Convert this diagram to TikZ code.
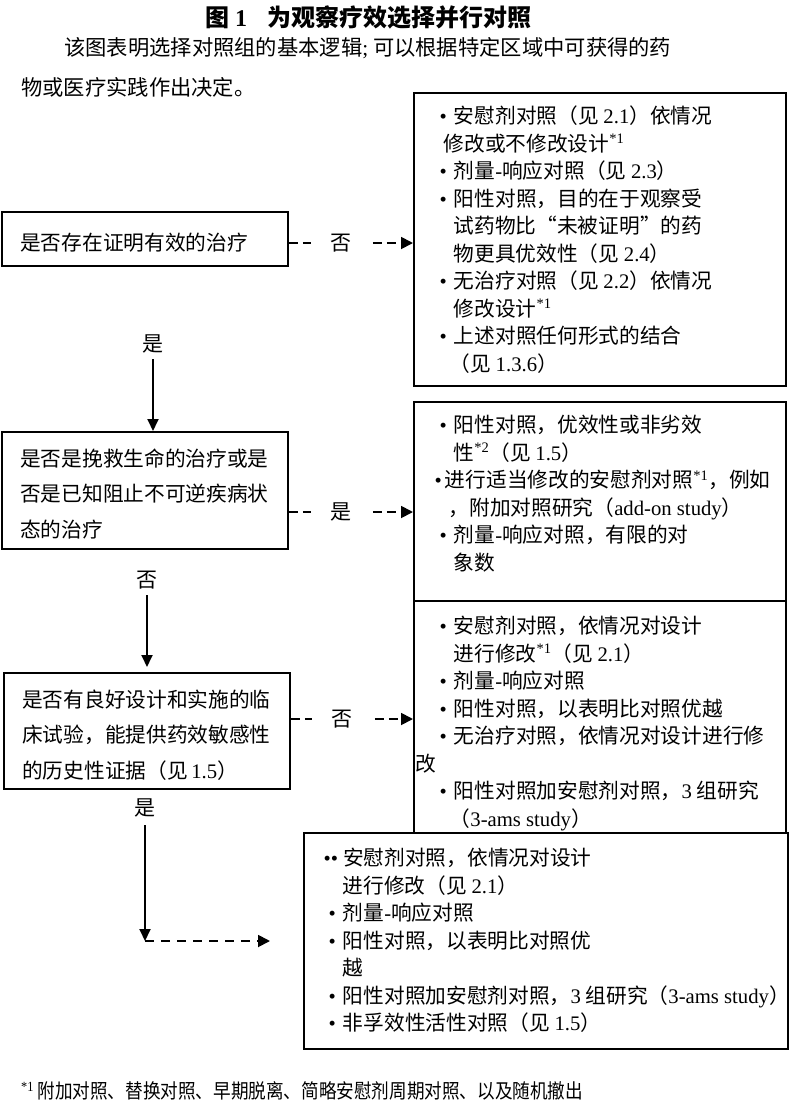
\documentclass[tikz,border=0pt]{standalone}
\usepackage{fontspec}
\setmainfont{Noto Sans CJK SC}
\newfontfamily\lat{Liberation Serif}
\usetikzlibrary{arrows.meta}
\newcommand{\tn}[1]{{\lat #1}}
\newcommand{\bul}{{\lat •}\hspace*{7pt}}
\newcommand{\sups}[1]{\textsuperscript{\lat #1}}
\newcommand{\ind}[1]{\hspace*{#1}}
\tikzset{
  box/.style={draw, line width=1.8pt, inner sep=0pt, anchor=north west},
  txtL/.style={anchor=north west, align=left, inner sep=0pt, font=\fontsize{20.7}{35.5}\selectfont},
  txtR/.style={anchor=north west, align=left, inner sep=0pt, font=\fontsize{20.7}{27.5}\selectfont},
  lbl/.style={inner sep=2pt, font=\fontsize{21}{21}\selectfont},
  dlbl/.style={fill=white, inner sep=0pt, minimum width=60pt, minimum height=20pt, font=\fontsize{21}{21}\selectfont},
  solidarrow/.style={line width=1.8pt, -{Triangle[length=12pt,width=11pt]}},
  dasharrow/.style={line width=1.8pt, dash pattern=on 9pt off 5pt, -{Triangle[length=12pt,width=12pt]}}
}
\begin{document}
\begin{tikzpicture}[x=1pt,y=-1pt]
\useasboundingbox (0,0) rectangle (800,1105);

% title and intro
\node[anchor=west, inner sep=0pt, font=\fontsize{24}{24}\selectfont\bfseries] (title) at (205,17)
  {图\hspace{6pt}{\lat\bfseries 1}\hspace{20pt}为观察疗效选择并行对照};
\node[anchor=west, inner sep=0pt, font=\fontsize{21.3}{21.3}\selectfont] (p1) at (64,48)
  {该图表明选择对照组的基本逻辑{\lat ;} 可以根据特定区域中可获得的药};
\node[anchor=west, inner sep=0pt, font=\fontsize{21.3}{21.3}\selectfont] (p2) at (21,87)
  {物或医疗实践作出决定。};

% left decision boxes
\node[box, minimum width=286pt, minimum height=54pt] (a) at (1,211) {};
\node[txtL] (ta) at (20,233) {是否存在证明有效的治疗};
\node[box, minimum width=286pt, minimum height=117pt] (b) at (1,431) {};
\node[txtL] (tb) at (20,448.5) {是否是挽救生命的治疗或是\\否是已知阻止不可逆疾病状\\态的治疗};
\node[box, minimum width=286pt, minimum height=116pt] (c) at (3,672) {};
\node[txtL] (tc) at (22,689.5) {是否有良好设计和实施的临\\床试验，能提供药效敏感性\\的历史性证据（见\,\tn{1.5}）};

% right option boxes
\node[box, minimum width=372pt, minimum height=293pt] (r1) at (413,92) {};
\node[txtR] (t1) at (439.5,106) {\bul 安慰剂对照（见 \tn{2.1}）依情况\\
\ind{4pt}修改或不修改设计\sups{*1}\\
\bul 剂量\tn{-}响应对照（见 \tn{2.3}）\\
\bul 阳性对照，目的在于观察受\\
\ind{14pt}试药物比“未被证明”的药\\
\ind{14pt}物更具优效性（见 \tn{2.4}）\\
\bul 无治疗对照（见 \tn{2.2}）依情况\\
\ind{14pt}修改设计\sups{*1}\\
\bul 上述对照任何形式的结合\\
\ind{10pt}（见 \tn{1.3.6}）};

\node[box, minimum width=372pt, minimum height=199pt] (r2) at (413,401) {};
\node[txtR] (t2) at (439.5,415) {\bul 阳性对照，优效性或非劣效\\
\ind{14pt}性\sups{*2}（见 \tn{1.5}）\\
\ind{-5pt}{\lat •}\hspace*{3pt}进行适当修改的安慰剂对照\sups{*1}，例如\\
\ind{9pt}，附加对照研究（\tn{add-on study}）\\
\bul 剂量\tn{-}响应对照，有限的对\\
\ind{14pt}象数};

\node[box, minimum width=372pt, minimum height=232pt] (r3) at (413,600) {};
\node[txtR] (t3) at (439.5,616) {\bul 安慰剂对照，依情况对设计\\
\ind{14pt}进行修改\sups{*1}（见 \tn{2.1}）\\
\bul 剂量\tn{-}响应对照\\
\bul 阳性对照，以表明比对照优越\\
\bul 无治疗对照，依情况对设计进行修\\
\ind{-24pt}改\\
\bul 阳性对照加安慰剂对照，\tn{3} 组研究\\
\ind{10pt}（\tn{3-ams study}）};

\node[box, minimum width=484pt, minimum height=216pt] (r4) at (303,832) {};
\node[txtR] (t4) at (328.5,848) {\ind{-5pt}{\lat ••}\hspace*{5pt}安慰剂对照，依情况对设计\\
\ind{14pt}进行修改（见 \tn{2.1}）\\
\bul 剂量\tn{-}响应对照\\
\bul 阳性对照，以表明比对照优\\
\ind{14pt}越\\
\bul 阳性对照加安慰剂对照，\tn{3} 组研究（\tn{3-ams study}）\\
\bul 非孚效性活性对照（见 \tn{1.5}）};

% connector helper coordinates
\coordinate (ya) at (0,243);
\coordinate (yb) at (0,512);
\coordinate (yc) at (0,719);

% horizontal dashed connectors with labels
\draw[dasharrow] (a.east |- ya) -- node[dlbl, pos=0.42] (la) {否} (r1.west |- ya);
\draw[dasharrow] (b.east |- yb) -- node[dlbl, pos=0.42] (lb) {是} (r2.west |- yb);
\draw[dasharrow] (c.east |- yc) -- node[dlbl, pos=0.42] (lc) {否} (r3.west |- yc);

% vertical flow
\node[lbl] (v1) at (153,344) {是};
\draw[solidarrow] ([yshift=-4pt]v1.south) -- (v1.south |- b.north);
\node[lbl] (v2) at (147,580) {否};
\draw[solidarrow] ([yshift=-4pt]v2.south) -- ([yshift=5pt]v2.south |- c.north);
\node[lbl] (v3) at (145,808) {是};
\coordinate (corner) at (145,941);
\coordinate (endd) at (270,941);
\draw[solidarrow] ([yshift=-6pt]v3.south) -- (corner);
\draw[dasharrow, dash pattern=on 9pt off 7pt] (corner) -- (endd);

% footnote
\node[anchor=west, inner sep=0pt] (fn) at (21,1091)
  {\scalebox{0.88}[1]{\fontsize{20}{20}\selectfont\textsuperscript{\lat *1}\hspace{4pt}附加对照、替换对照、早期脱离、简略安慰剂周期对照、以及随机撤出}};
\end{tikzpicture}
\end{document}
